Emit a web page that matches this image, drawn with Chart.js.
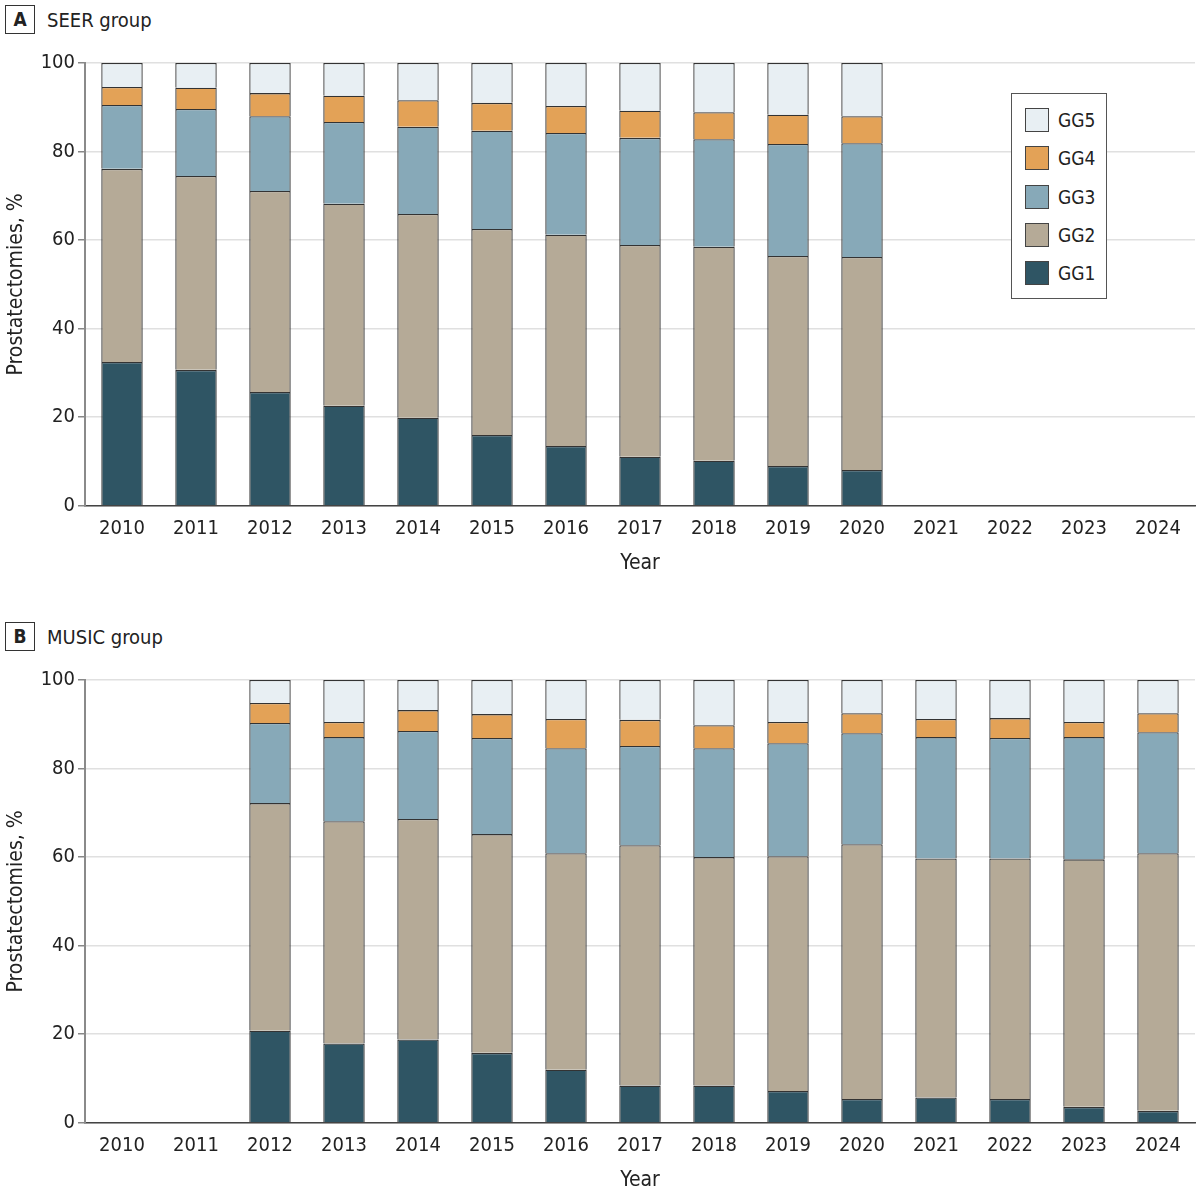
<!DOCTYPE html>
<html>
<head>
<meta charset="utf-8">
<script src="https://cdn.jsdelivr.net/npm/chart.js@4.4.1/dist/chart.umd.min.js"></script>
<style>
  body { margin: 0; background: #fff; font-family: "DejaVu Sans Condensed", sans-serif; color: #222; }
  #page { position: relative; width: 1200px; height: 1190px; }
  .tag { position: absolute; left: 5px; width: 28px; height: 27px; border: 1.5px solid #333;
         font-weight: bold; font-size: 19px; line-height: 27px; text-align: center; }
  .title { position: absolute; left: 47px; font-size: 20px; line-height: 30px; }
  .box { position: absolute; left: 0; width: 1200px; height: 531px; }
  #legend { position: absolute; left: 1011px; top: 93px; width: 94px; height: 204px; border: 1px solid #555; background: #fff; }
  .item { position: absolute; left: 13px; height: 24px; font-size: 19px; line-height: 24px; }
  .sw { display: inline-block; width: 22px; height: 22px; border: 1px solid #444; vertical-align: top; margin-right: 9px; }
</style>
</head>
<body>
<div id="page">
  <div class="tag" style="top:5px">A</div>
  <div class="title" style="top:5px">SEER group</div>
  <div class="box" style="top:45px"><canvas id="chartA"></canvas></div>

  <div class="tag" style="top:622px">B</div>
  <div class="title" style="top:622px">MUSIC group</div>
  <div class="box" style="top:662px"><canvas id="chartB"></canvas></div>

  <div id="legend"></div>
</div>
<script>
const years = ["2010", "2011", "2012", "2013", "2014", "2015", "2016", "2017", "2018", "2019", "2020", "2021", "2022", "2023", "2024"];
const gradeLabels = ["GG1", "GG2", "GG3", "GG4", "GG5"];
const gradeColors = ["#2f5564", "#b5aa97", "#87a9b8", "#e3a257", "#e8eff3"];
const yTicks = [0, 20, 40, 60, 80, 100];

// SEER group (2010-2020)
const seerGG1 = [32.5, 30.7, 25.7, 22.6, 19.9, 16.0, 13.5, 11.1, 10.2, 9.0, 8.1, null, null, null, null];
const seerGG2 = [43.6, 43.8, 45.4, 45.6, 46.0, 46.5, 47.7, 47.8, 48.3, 47.4, 48.1, null, null, null, null];
const seerGG3 = [14.4, 15.1, 16.9, 18.5, 19.7, 22.2, 23.0, 24.2, 24.3, 25.3, 25.7, null, null, null, null];
const seerGG4 = [4.1, 4.8, 5.2, 5.9, 6.0, 6.3, 6.1, 6.1, 6.1, 6.6, 6.1, null, null, null, null];
const seerGG5 = [5.4, 5.6, 6.8, 7.4, 8.4, 9.0, 9.7, 10.8, 11.1, 11.7, 12.0, null, null, null, null];

// MUSIC group (2012-2024)
const musicGG1 = [null, null, 20.8, 17.9, 18.8, 15.8, 12.0, 8.4, 8.4, 7.2, 5.4, 5.7, 5.4, 3.6, 2.7];
const musicGG2 = [null, null, 51.4, 50.2, 49.8, 49.4, 48.9, 54.3, 51.6, 53.0, 57.5, 54.0, 54.3, 55.9, 58.2];
const musicGG3 = [null, null, 18.1, 19.0, 19.9, 21.7, 23.7, 22.4, 24.6, 25.5, 25.1, 27.4, 27.2, 27.6, 27.3];
const musicGG4 = [null, null, 4.5, 3.4, 4.7, 5.4, 6.6, 5.9, 5.2, 4.8, 4.5, 4.1, 4.5, 3.4, 4.3];
const musicGG5 = [null, null, 5.2, 9.5, 6.8, 7.7, 8.8, 9.0, 10.2, 9.5, 7.5, 8.8, 8.6, 9.5, 7.5];

const FONT = "'DejaVu Sans Condensed', sans-serif";

function makeChart(id, series) {
    const ctx = document.getElementById(id).getContext("2d");
    return new Chart(ctx, {
        type: "bar",
        data: {
            labels: years,
            datasets: series.map((d, i) => ({
                label: gradeLabels[i],
                data: d,
                backgroundColor: gradeColors[i],
                borderColor: "#333",
                borderWidth: 1.3,
                barPercentage: 0.56,
                categoryPercentage: 1,
            })),
        },
        options: {
            responsive: true,
            maintainAspectRatio: false,
            animation: false,
            layout: { padding: { top: 18, right: 5, bottom: 0, left: 0 } },
            plugins: {
                legend: { display: false },
                tooltip: { enabled: false },
            },
            scales: {
                x: {
                    stacked: true,
                    grid: { display: true, drawOnChartArea: false, drawTicks: false },
                    border: { color: "#444", width: 1.5 },
                    ticks: { color: "#222", padding: 11, font: { family: FONT, size: 20, lineHeight: 1.15 } },
                    title: {
                        display: true,
                        text: "Year",
                        color: "#222",
                        padding: { top: 0, bottom: 0 },
                        font: { family: FONT, size: 21 },
                    },
                },
                y: {
                    stacked: true,
                    min: 0,
                    max: 100,
                    afterBuildTicks: (scale) => {
                        scale.ticks = yTicks.map((v) => ({ value: v }));
                    },
                    afterFit: (scale) => {
                        scale.width = 85;
                    },
                    grid: { color: "#e0e0e0", lineWidth: 1.5, tickColor: "#888", tickLength: 7 },
                    border: { color: "#8a8a8a", width: 2 },
                    ticks: { color: "#222", padding: 3, font: { family: FONT, size: 20 } },
                    title: {
                        display: true,
                        text: "Prostatectomies, %",
                        color: "#222",
                        padding: { top: 4, bottom: 0 },
                        font: { family: FONT, size: 21 },
                    },
                },
            },
        },
    });
}

makeChart("chartA", [seerGG1, seerGG2, seerGG3, seerGG4, seerGG5]);
makeChart("chartB", [musicGG1, musicGG2, musicGG3, musicGG4, musicGG5]);

// legend, GG5 on top
const legend = document.getElementById("legend");
for (let i = gradeLabels.length - 1; i >= 0; i--) {
    const row = 4 - i;
    const item = document.createElement("div");
    item.className = "item";
    item.style.top = (14 + row * 38.3) + "px";
    item.innerHTML = '<span class="sw" style="background:' + gradeColors[i] + '"></span>' + gradeLabels[i];
    legend.appendChild(item);
}
</script>
</body>
</html>
